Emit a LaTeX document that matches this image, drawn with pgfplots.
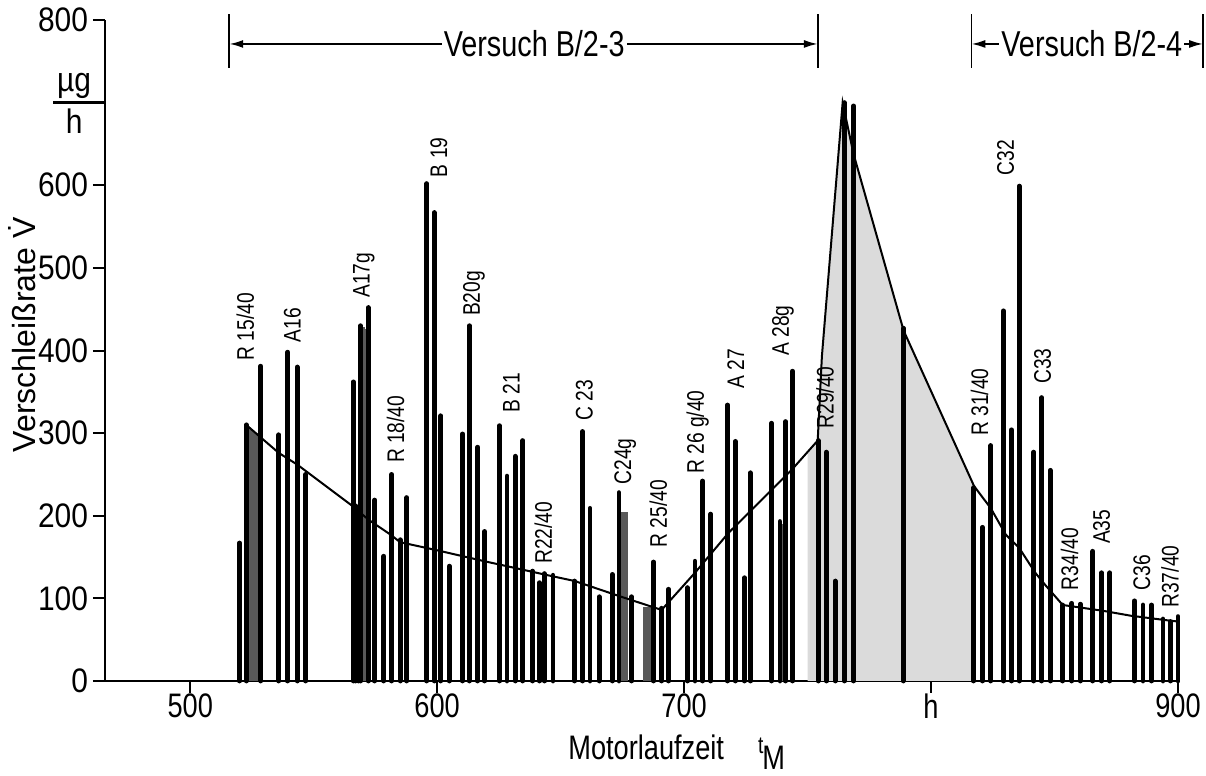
\documentclass[border=0pt]{standalone}
\usepackage{fontspec}
\setmainfont{Liberation Sans}
\newfontfamily\narrowfont{Liberation Sans}[FakeStretch=0.8]
\newfontfamily\ytickfont{Liberation Sans}[FakeStretch=0.88]
\usepackage{pgfplots}
\pgfplotsset{compat=1.18}
\usetikzlibrary{arrows.meta}

\begin{document}
\begin{tikzpicture}
\useasboundingbox (-52.5pt,-47.5pt) rectangle (550.5pt,340.5pt);
\begin{axis}[
  at={(0,0)}, anchor=south west,
  scale only axis, width=536.5pt, height=330.5pt,
  xmin=465.5, xmax=900, ymin=0, ymax=800,
  axis lines*=left, axis line style={line width=1.4pt},
  xtick={500,600,700,800,900}, xticklabels={500,600,700,h,900},
  ytick={0,100,200,300,400,500,600,800},
  yticklabels={0,100,200,300,400,500,600,800},
  tick align=outside, major tick length=6pt,
  tick style={line width=1pt, black},
  x tick label style={font=\narrowfont\fontsize{17}{17}\selectfont, yshift=3pt},
  y tick label style={font=\ytickfont\fontsize{17}{17}\selectfont, xshift=1pt},
  clip=false,
]
% shaded area under the trend curve
\addplot[fill=black!14, draw=none] coordinates {
  (750,0) (750,275) (754.1,291) (755.8,393) (764.2,700) (768.6,638)
  (788.9,424) (817.4,236) (817.4,0)} -- cycle;

% densely hatched groups of measurements
\addplot[ycomb, black!65, line width=2.4pt] coordinates {
  (523.6,306) (524.5,304) (525.4,302) (526.3,300) (527.2,298)
  (569.8,428) (570.6,426) (571.4,424)
  (674.6,205) (675.4,205) (676.2,205)
  (684.5,90) (685.5,90) (686.5,90)
  (739.6,190)};

% single measurements
\addplot[ycomb, black, line width=2.4pt, line cap=round] coordinates {
  (520.0,167) (522.7,310) (528.6,381)
  (535.9,298) (539.5,398) (543.3,380) (546.8,250)
  (566.0,362) (567.0,212) (568.0,208) (569.0,430) (572.1,452)
  (574.7,219) (578.4,151) (581.6,250) (585.0,171) (587.7,222)
  (595.8,602) (598.8,567) (601.5,321) (604.9,139) (610.3,299) (613.0,430) (616.4,283) (619.2,181)
  (625.2,309) (628.3,248) (631.6,272) (634.7,291) (638.7,133) (641.4,119) (643.4,130) (646.9,128)
  (655.7,121) (658.9,302) (661.9,209) (665.6,102) (670.9,129) (673.6,228) (678.7,102)
  (687.6,144) (690.9,88) (693.7,111)
  (701.3,113) (704.4,145) (707.5,242) (710.8,202) (717.6,334) (720.7,290) (724.4,125) (726.8,252)
  (735.4,312) (738.8,193) (741.1,314) (743.9,375)
  (754.3,291) (757.6,277) (761.2,121) (764.9,700) (768.6,696) (788.7,427)
  (817.2,234) (820.8,186) (824.2,285) (829.3,448) (832.6,304) (835.7,599) (841.6,277) (844.8,343)
  (848.3,255)
  (853.3,92) (857.0,94) (860.4,93) (865.5,157) (869.0,131) (872.4,131) (882.4,97) (885.8,92)
  (889.2,92) (893.9,75) (896.9,72) (900.0,78)};

% trend curve
\addplot[black, line width=1pt] coordinates {
  (522.7,310) (527.7,297) (535.9,276) (543.3,262) (565.6,212) (572.3,195) (581.2,177) (585.0,168)
  (598.8,159) (619.1,145) (644.8,128) (655.7,121) (673.5,103) (690.9,86) (704.4,131) (717.9,179)
  (743.7,256) (754.1,291) (755.8,393) (764.2,700) (768.6,638) (788.9,424) (817.4,236) (824.2,209)
  (830.3,177) (835.7,161) (842.2,131) (846.3,116) (853.3,92) (869.5,85) (880.9,79) (896.8,73)
  (900,72)};

% sample labels
\tikzset{lab/.style={rotate=90, anchor=west, inner sep=1pt,
  font=\narrowfont\fontsize{12}{12}\selectfont}}
\node[lab] at (axis cs:522.3,385) {R 15/40};
\node[lab] at (axis cs:541.4,407) {A16};
\node[lab] at (axis cs:570.3,461) {A17g};
\node[lab] at (axis cs:583.2,261) {R 18/40};
\node[lab] at (axis cs:600.7,607) {B 19};
\node[lab] at (axis cs:614.9,439) {B20g};
\node[lab] at (axis cs:630.0,322) {B 21};
\node[lab] at (axis cs:643.0,139) {R22/40};
\node[lab] at (axis cs:659.6,312) {C 23};
\node[lab] at (axis cs:676.2,235) {C24g};
\node[lab] at (axis cs:689.6,159) {R 25/40};
\node[lab] at (axis cs:705.5,248) {R 26 g/40};
\node[lab] at (axis cs:720.9,351) {A 27};
\node[lab] at (axis cs:740.0,391) {A 28g};
\node[lab] at (axis cs:757.1,303) {R29/40};
\node[lab] at (axis cs:819.6,294) {R 31/40};
\node[lab] at (axis cs:830.2,609) {C32};
\node[lab] at (axis cs:845.2,357) {C33};
\node[lab] at (axis cs:856.1,107) {R34/40};
\node[lab] at (axis cs:869.1,163) {A35};
\node[lab] at (axis cs:885.4,107) {C36};
\node[lab] at (axis cs:896.8,86) {R37/40};

% test periods
\draw[line width=0.8pt] (axis cs:515.8,742) -- (axis cs:515.8,807);
\draw[line width=0.8pt] (axis cs:754.2,742) -- (axis cs:754.2,807);
\draw[line width=0.8pt] (axis cs:816.3,742) -- (axis cs:816.3,807);
\draw[line width=0.8pt] (axis cs:910.2,742) -- (axis cs:910.2,807);
\draw[line width=1pt, {Latex[length=7pt,width=4pt]}-{Latex[length=7pt,width=4pt]}]
  (axis cs:515.8,771) -- (axis cs:754.2,771);
\draw[line width=1pt, {Latex[length=7pt,width=4pt]}-{Latex[length=7pt,width=4pt]}]
  (axis cs:816.3,771) -- (axis cs:910.2,771);
\node[fill=white, inner sep=1pt, font=\narrowfont\fontsize{18}{18}\selectfont]
  at (axis cs:639.3,771) {Versuch B/2-3};
\node[fill=white, inner sep=1pt, font=\narrowfont\fontsize{18}{18}\selectfont]
  at (axis cs:865.1,771) {Versuch B/2-4};

% unit in place of the 700 tick label
\node[font=\ytickfont\fontsize{17}{17}\selectfont, inner sep=0pt] at (axis cs:453,720) {µg};
\node[font=\ytickfont\fontsize{17}{17}\selectfont, inner sep=0pt] at (axis cs:453,677) {h};
\draw[line width=1.2pt] (axis cs:444.5,700) -- (axis cs:465.5,700);

% axis titles
\node[rotate=90, font=\fontsize{16}{16}\selectfont] at (axis cs:432,419)
  {Verschleißrate \.{V}};
\node[font=\narrowfont\fontsize{17}{17}\selectfont] at (axis cs:697,-86)
  {Motorlaufzeit\quad\raisebox{3pt}{\fontsize{12}{12}\selectfont t}\kern-0.5pt\raisebox{-5pt}{M}};
\end{axis}
\end{tikzpicture}
\end{document}
